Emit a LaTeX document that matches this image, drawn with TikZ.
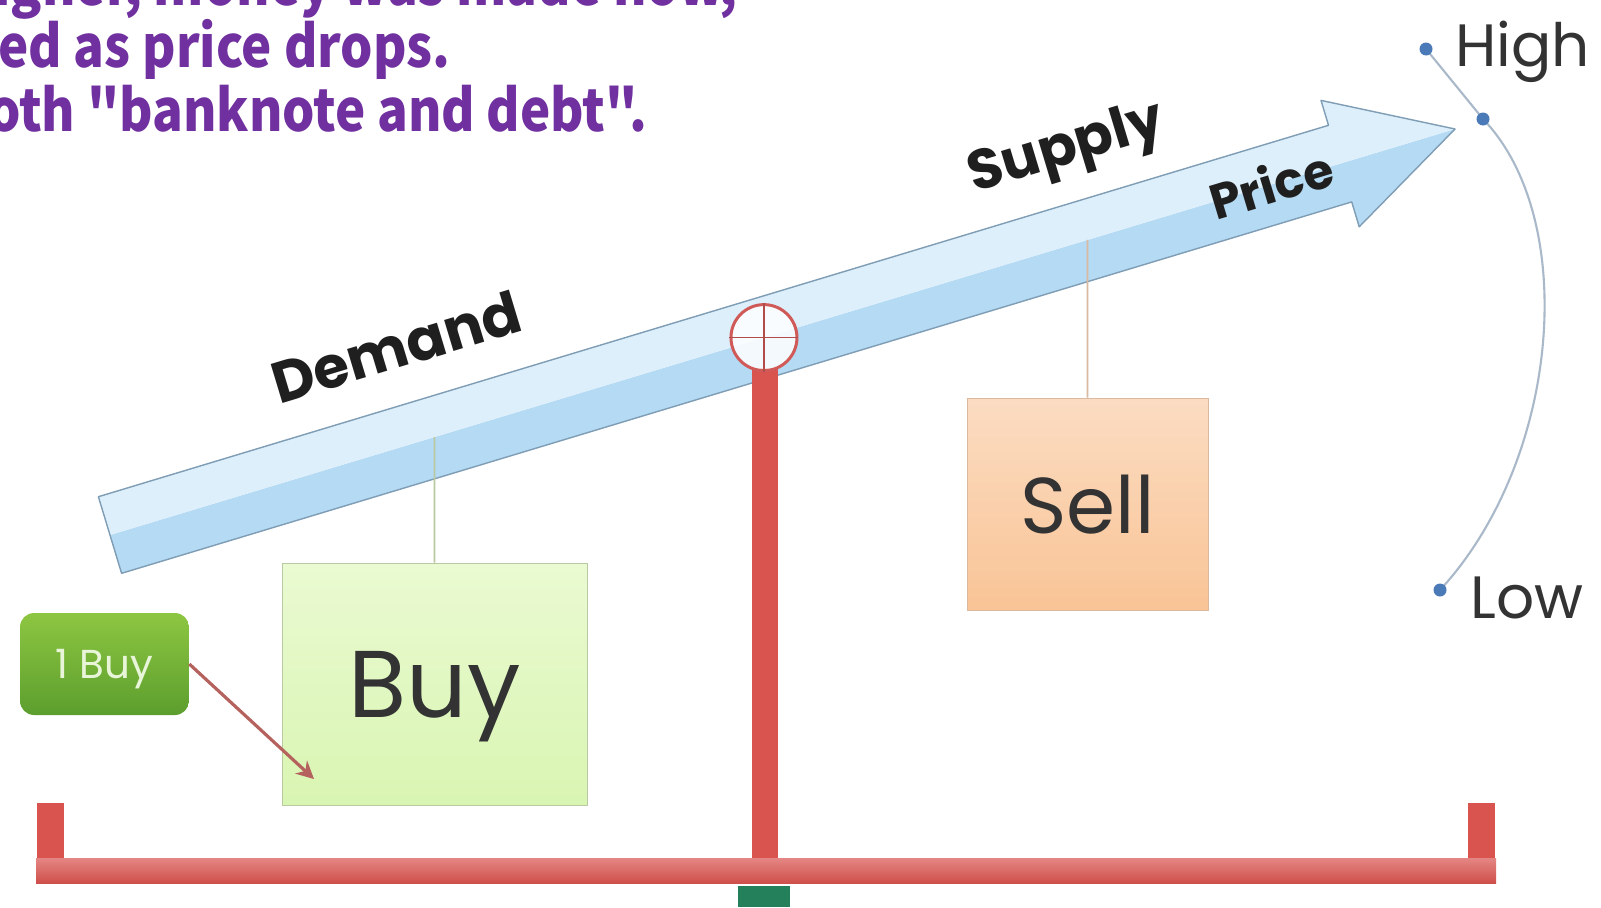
\documentclass[tikz,border=0pt]{standalone}
\usepackage{fontspec}
\setmainfont{Poppins}
\newfontfamily\notefont{Noto Sans CJK JP}[FakeStretch=0.88]
\usetikzlibrary{arrows.meta,calc,positioning,shadows}
\definecolor{notepurple}{HTML}{7030A0}
\definecolor{beamup}{HTML}{DDEFFB}
\definecolor{beamlow}{HTML}{B5DAF4}
\definecolor{beamline}{HTML}{7F9DB5}
\definecolor{buytop}{HTML}{EAFAD2}
\definecolor{buybot}{HTML}{D9F5B2}
\definecolor{buyline}{HTML}{B9C9A2}
\definecolor{selltop}{HTML}{FBDCC2}
\definecolor{sellbot}{HTML}{F9C496}
\definecolor{sellline}{HTML}{D9B9A0}
\definecolor{tagtop}{HTML}{8DC641}
\definecolor{tagbot}{HTML}{5C9E2E}
\definecolor{tagtext}{HTML}{E8F5D8}
\definecolor{postred}{HTML}{D9534F}
\definecolor{pivotred}{HTML}{D05A58}
\definecolor{basegreen}{HTML}{23805A}
\definecolor{pointred}{HTML}{B5615D}
\definecolor{dotblue}{HTML}{4A7AB8}
\definecolor{arcgray}{HTML}{A9B9C9}
\definecolor{textgray}{HTML}{333333}
\tikzset{
  basic/.style    = {draw, rectangle, inner sep=0pt, text=textgray,
    drop shadow={opacity=.2, shadow xshift=.8pt, shadow yshift=-.8pt}},
  buybox/.style   = {basic, draw=buyline, top color=buytop, bottom color=buybot,
    minimum width=6.1cm, minimum height=4.84cm, text depth=0pt,
    font=\fontsize{54}{54}\selectfont},
  sellbox/.style  = {basic, draw=sellline, top color=selltop, bottom color=sellbot,
    minimum width=4.82cm, minimum height=4.24cm, text depth=0pt,
    font=\fontsize{45}{45}\selectfont},
  tag/.style      = {rectangle, rounded corners=8pt, top color=tagtop, bottom color=tagbot,
    minimum width=3.38cm, minimum height=2.04cm, text=tagtext, text depth=0pt,
    font=\fontsize{23}{23}\selectfont},
  beamlabel/.style  = {rotate=16.8, text=black!88, inner sep=0pt},
  scalelabel/.style = {anchor=base west, inner sep=0pt, text=textgray,
    font=\fontsize{34}{34}\selectfont},
  note/.style     = {anchor=base west, inner sep=0pt, text=notepurple,
    font=\notefont\bfseries\fontsize{33}{33}\selectfont},
  dot/.style      = {circle, fill=dotblue, inner sep=0pt, minimum size=.26cm},
  hang/.style     = {line width=1pt},
  pointer/.style  = {draw=pointred, line width=1.8pt, -{Stealth[length=10pt,width=10pt]}}
}

\begin{document}
\begin{tikzpicture}[x=0.02cm, y=-0.02cm]
\useasboundingbox (0,0) rectangle (1601,907);
\clip (0,0) rectangle (1601,907);
\fill[white] (0,0) rectangle (1601,907);

% note lines (cut by the frame)
\node[note] (note1) at (-6,5) {igher, money was made now,};
\node[note] (note2) at (-2,67) {ed as price drops.};
\node[note] (note3) at (-12,131) {oth "banknote and debt".};

% beam arrow
\coordinate (tail) at (110,535);
\coordinate (tip) at (1455,129);
\fill[beamlow] (tail) -- (tip) -- (1359.2,226.8) -- (1351.7,201.9) -- (121.6,573.3) -- cycle;
\fill[beamup] (98.4,496.7) -- (1328.5,125.3) -- (1321,100.4) -- (tip) -- (tail) -- cycle;
\draw[beamline, line width=.8pt, line join=round] (98.4,496.7) -- (1328.5,125.3) -- (1321,100.4)
  -- (tip) -- (1359.2,226.8) -- (1351.7,201.9) -- (121.6,573.3) -- cycle;

\node[beamlabel, font=\fontsize{33}{33}\selectfont\bfseries] (demand) at (396,347) {Demand};
\node[beamlabel, font=\fontsize{32}{32}\selectfont\bfseries] (supply) at (1067,151) {Supply};
\node[beamlabel, font=\fontsize{28}{28}\selectfont\bfseries] (price) at (1271,184) {Price};

% stand
\fill[postred] (752,368) rectangle (778,858);
\fill[postred] (37,803) rectangle (64,858);
\fill[postred] (1468,803) rectangle (1495,858);
\shade[top color=postred!70!white, bottom color=postred!95!black] (36,858) rectangle (1496,883);
\fill[basegreen] (738,886) rectangle (790,907);

\coordinate (pivot) at ($(tail)!0.4862!(tip)$);
\node[circle, draw=pivotred, line width=1.7pt, fill=white, fill opacity=.85,
  minimum size=1.32cm, inner sep=0pt] (hinge) at (pivot) {};
\draw[pivotred!85!black, line width=1pt] (hinge.north) -- (hinge.south)
  (hinge.west) -- (hinge.east);

% pans
\node[buybox] (buy) at (434.5,684) {Buy};
\node[sellbox] (sell) at (1087.5,504) {Sell};
\draw[hang, buyline] ($(tail)!0.2413!(tip)$) -- (buy.north);
\draw[hang, sellline] ($(tail)!0.7268!(tip)$) -- (sell.north);

\node[tag] (onebuy) at (104.5,664) {1 Buy};
\coordinate (drop) at (314,779);
\draw[pointer] (onebuy.east) -- (drop);

% high / low scale
\coordinate (hpos) at (1426,49);
\coordinate (bpos) at (1483,119);
\coordinate (lpos) at (1440,590);
\draw[arcgray, line width=1.2pt] (hpos) -- (bpos) .. controls (1580,220) and (1560,460) .. (lpos);
\node[dot] (highdot) at (hpos) {};
\node[dot] (benddot) at (bpos) {};
\node[dot] (lowdot) at (lpos) {};
\node[scalelabel] (high) at (1455,66) {High};
\node[scalelabel] (low) at (1470,618) {Low};
\end{tikzpicture}
\end{document}
